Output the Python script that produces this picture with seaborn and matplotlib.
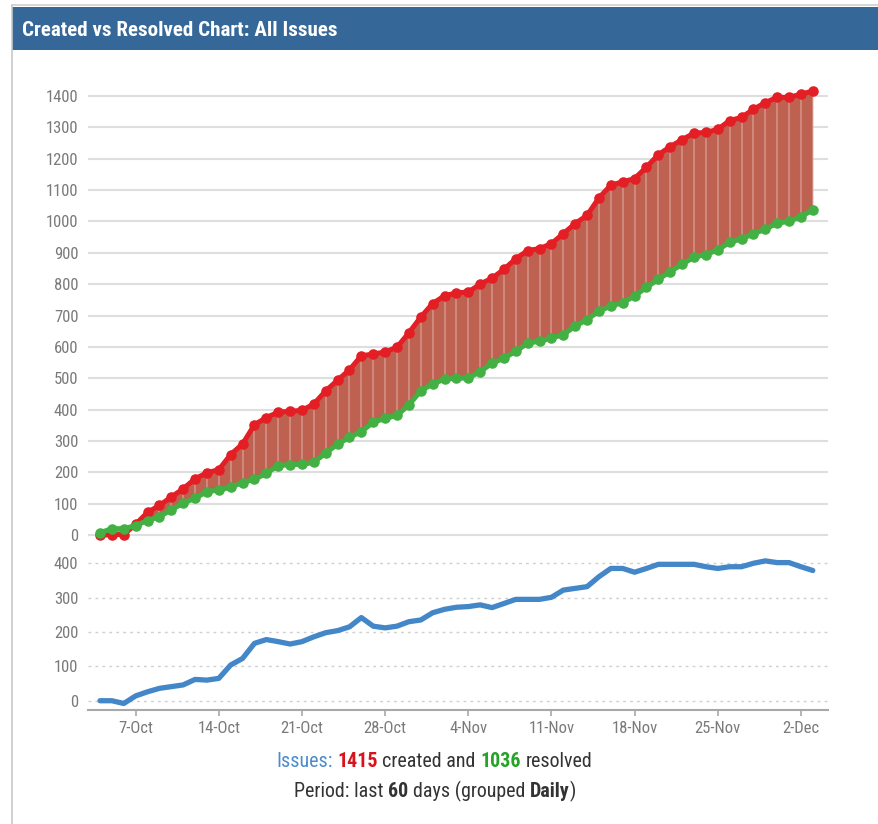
import numpy as np
import pandas as pd
import matplotlib
matplotlib.use("Agg")
import matplotlib.pyplot as plt
import seaborn as sns
from matplotlib import font_manager as fm
from matplotlib.patches import Rectangle
from matplotlib.lines import Line2D

# ---------------- data ----------------
start_date = "2013-10-04"
n_days = 61
created = [0, 2, 2, 35, 73, 95, 122, 148, 180, 199, 209, 257, 291, 352, 375,
           392, 395, 398, 418, 460, 494, 527, 572, 577, 584, 599, 645, 695, 738, 763, 772,
           775, 800, 819, 847, 881, 907, 913, 929, 961, 993, 1019, 1075, 1115, 1126, 1136,
           1173, 1212, 1238, 1260, 1281, 1283, 1293, 1321, 1331, 1357, 1378, 1395, 1395, 1405, 1415]
resolved = [8, 21, 21, 31, 47, 59, 81, 102, 118, 139, 144, 153, 168, 178, 197,
            222, 225, 226, 232, 262, 290, 312, 330, 360, 372, 382, 415, 460, 482, 497, 500,
            501, 521, 548, 564, 586, 612, 618, 628, 639, 666, 687, 714, 730, 741, 762,
            790, 815, 840, 863, 886, 894, 909, 933, 944, 960, 975, 994, 1000, 1015, 1036]
unresolved = [0, 0, -8, 14, 26, 36, 41, 46, 62, 60,
              65, 104, 123, 167, 178, 172, 165, 172, 186, 198,
              204, 215, 242, 217, 212, 217, 230, 235, 256, 266,
              272, 274, 279, 271, 283, 295, 295, 295, 301, 322,
              327, 332, 361, 385, 385, 374, 385, 397, 397, 397,
              397, 390, 385, 390, 390, 400, 407, 402, 402, 390, 379]
week_ticks = ["2013-10-07", "2013-10-14", "2013-10-21", "2013-10-28", "2013-11-04",
              "2013-11-11", "2013-11-18", "2013-11-25", "2013-12-02"]
week_labels = ["7-Oct", "14-Oct", "21-Oct", "28-Oct", "4-Nov", "11-Nov", "18-Nov", "25-Nov", "2-Dec"]
top_yticks = list(range(0, 1500, 100))
bottom_yticks = [0, 100, 200, 300, 400]
title = "Created vs Resolved Chart: All Issues"
total_created = 1415
total_resolved = 1036
period_days = 60

# ---------------- style ----------------
sns.set_style("white")
names = {f.name for f in fm.fontManager.ttflist}
NARROW = None
for cand in ["Liberation Sans Narrow", "Roboto Condensed", "Open Sans Condensed", "Liberation Sans"]:
    if cand in names:
        NARROW = cand
        break
if NARROW is None:
    NARROW = "DejaVu Sans"
plt.rcParams["font.family"] = [NARROW, "DejaVu Sans"]

RED = "#e31e24"
GREEN = "#43b043"
FILL = "#bf6150"
BLUE = "#4387c8"
HEADER = "#356799"
TICKC = "#7a7a7a"

W, H = 879, 824
fig = plt.figure(figsize=(W / 100, H / 100), dpi=100)
fig.patch.set_facecolor("white")


def rect(l, t, r, b):
    return [l / W, 1 - b / H, (r - l) / W, (b - t) / H]


df = pd.DataFrame({
    "date": pd.date_range(start_date, periods=n_days, freq="D"),
    "created": created,
    "resolved": resolved,
    "unresolved": unresolved,
})
xlim = (df["date"].iloc[0] - pd.Timedelta(days=1.01), df["date"].iloc[0] + pd.Timedelta(days=61.28))

# ---------------- top panel ----------------
ax1 = fig.add_axes(rect(88, 70, 828, 545))
c = np.array(created, dtype=float)
r = np.array(resolved, dtype=float)
ax1.fill_between(df["date"], r, c, where=c >= r, interpolate=True, color=FILL, lw=0, zorder=1)
ax1.fill_between(df["date"], r, c, where=c < r, interpolate=True, color="#7fbf6a", lw=0, zorder=1)
ax1.vlines(df["date"], r, c, colors="white", alpha=0.3, lw=1.2, zorder=2)
sns.lineplot(data=df, x="date", y="created", ax=ax1, color=RED, lw=3.6, marker="o",
             markersize=7.6, markeredgewidth=0, zorder=4)
sns.lineplot(data=df, x="date", y="resolved", ax=ax1, color=GREEN, lw=3.6, marker="o",
             markersize=7.6, markeredgewidth=0, zorder=5)
ax1.set_xlim(*xlim)
ax1.set_ylim(-31, 1482)
ax1.set_yticks(top_yticks)
ax1.set_yticklabels([str(v) for v in top_yticks])
ax1.set_xticks([])
ax1.set_xlabel("")
ax1.set_ylabel("")
ax1.grid(axis="y", color="#dedede", lw=1.5)
ax1.set_axisbelow(True)
for s in ax1.spines.values():
    s.set_visible(False)
ax1.tick_params(axis="y", length=0, pad=7, labelsize=12, labelcolor=TICKC)

# ---------------- bottom panel ----------------
ax2 = fig.add_axes(rect(88, 548, 828, 710))
sns.lineplot(data=df, x="date", y="unresolved", ax=ax2, color=BLUE, lw=3.8, zorder=3)
ax2.set_xlim(*xlim)
ax2.set_ylim(-27, 444.5)
ax2.set_yticks(bottom_yticks)
ax2.set_yticklabels([str(v) for v in bottom_yticks])
ax2.set_xticks(pd.to_datetime(week_ticks))
ax2.set_xticklabels(week_labels)
ax2.set_xlabel("")
ax2.set_ylabel("")
ax2.grid(axis="y", color="#cfcfcf", lw=1.0, linestyle=(0, (2, 3)))
ax2.grid(axis="x", visible=False)
ax2.set_axisbelow(True)
for k, s in ax2.spines.items():
    s.set_visible(k == "bottom")
ax2.spines["bottom"].set_color("#a8a8a8")
ax2.spines["bottom"].set_linewidth(1.5)
ax2.tick_params(axis="y", length=0, pad=7, labelsize=12, labelcolor=TICKC)
ax2.tick_params(axis="x", length=4, width=1.2, color="#a8a8a8", pad=4, labelsize=12,
                labelcolor=TICKC, direction="out", bottom=True)

# ---------------- frame / header ----------------
fig.add_artist(Rectangle((12 / W, 1 - 50 / H), (W - 12) / W, 43 / H, transform=fig.transFigure,
                         facecolor=HEADER, edgecolor="none", zorder=0))
fig.add_artist(Line2D([12 / W, 1], [1 - 5 / H, 1 - 5 / H], transform=fig.transFigure,
                      color="#d0d0d0", lw=1.2))
fig.add_artist(Line2D([12 / W, 12 / W], [0, 1 - 5 / H], transform=fig.transFigure,
                      color="#c8c8c8", lw=1.2))
fig.text(22 / W, 1 - 35.5 / H, title, color="white", fontweight="bold", fontsize=15.1,
         va="baseline", ha="left")

# ---------------- footer ----------------
renderer = fig.canvas.get_renderer()


def text_width(s, size, weight):
    t = fig.text(0, 0, s, fontsize=size, fontweight=weight)
    w = t.get_window_extent(renderer).width
    t.remove()
    return w


def colored_line(pieces, center_px, baseline_px, size):
    # pieces: (text, colour, weight, space_before)
    sp = text_width("a a", size, "normal") - text_width("aa", size, "normal")
    widths = [text_width(s, size, wt) for s, _, wt, _ in pieces]
    gaps = [sp if (i > 0 and p[3]) else 0.0 for i, p in enumerate(pieces)]
    total = sum(widths) + sum(gaps)
    x = center_px - total / 2
    for (s, col, wt, _), w, g in zip(pieces, widths, gaps):
        x += g
        fig.text(x / W, 1 - baseline_px / H, s, color=col, fontsize=size, fontweight=wt,
                 va="baseline", ha="left")
        x += w


DARK = "#333333"
colored_line([("Issues:", "#4a8ccc", "normal", False), (str(total_created), "#d7141c", "bold", True),
              ("created and", DARK, "normal", True), (str(total_resolved), "#27a327", "bold", True),
              ("resolved", DARK, "normal", True)], 434, 767, 14.4)
colored_line([("Period: last", DARK, "normal", False), (str(period_days), DARK, "bold", True),
              ("days (grouped", DARK, "normal", True), ("Daily", DARK, "bold", True),
              (")", DARK, "normal", False)],
             435, 797, 14.4)

fig.savefig("out.png", dpi=100, facecolor="white")
